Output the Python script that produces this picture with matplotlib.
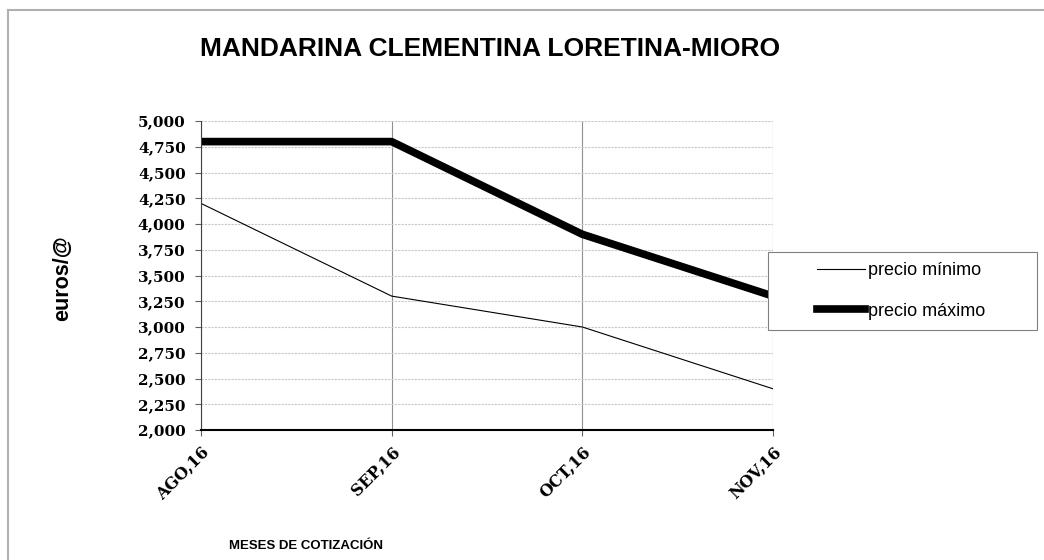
import matplotlib
matplotlib.use('Agg')
from matplotlib import pyplot as plt
from matplotlib.lines import Line2D
from matplotlib.patches import Rectangle

months = ['AGO,16', 'SEP,16', 'OCT,16', 'NOV,16']
precio_minimo = [4.2, 3.3, 3.0, 2.4]
precio_maximo = [4.8, 4.8, 3.9, 3.3]
yticks = [2.0, 2.25, 2.5, 2.75, 3.0, 3.25, 3.5, 3.75, 4.0, 4.25, 4.5, 4.75, 5.0]

W, H = 1044, 560
fig = plt.figure(figsize=(W / 100, H / 100), dpi=100)
ax = fig.add_axes([201 / W, 1 - 430 / H, 572 / W, 309 / H])

x = list(range(len(months)))
ax.plot(x, precio_minimo, color='black', lw=0.8)
ax.plot(x, precio_maximo, color='black', lw=5.5, solid_capstyle='butt')

ax.set_xlim(0, 3)
ax.set_ylim(2.0, 5.0)
ax.set_yticks(yticks)
ax.set_yticklabels([('%.3f' % v).replace('.', ',') for v in yticks],
                   family='DejaVu Serif', fontweight='bold', fontsize=11)
ax.set_xticks(x)
ax.set_xticklabels(months, rotation=45, ha='right', rotation_mode='anchor',
                   family='DejaVu Serif', fontweight='bold', fontsize=11.5)

ax.grid(axis='y', color='#c8c8c8', ls=(0, (2, 1)), lw=0.8)
ax.grid(axis='x', color='#909090', ls='-', lw=0.8)
for s in ['top', 'right']:
    ax.spines[s].set_visible(False)
ax.spines['left'].set_color('#404040')
ax.spines['bottom'].set_color('black')
ax.spines['bottom'].set_linewidth(1.5)
ax.tick_params(length=4, color='#606060')
ax.tick_params(axis='y', pad=7)
ax.tick_params(axis='x', pad=6)

fig.text(490 / W, 1 - 49 / H, 'MANDARINA CLEMENTINA LORETINA-MIORO', ha='center', va='center',
         fontsize=19, fontweight='bold', family='Liberation Sans')
fig.text(63 / W, 1 - 278 / H, 'euros/@', rotation=90, ha='center', va='center',
         fontsize=15.5, fontweight='bold', family='Liberation Sans')
fig.text(306 / W, 1 - 546 / H, 'MESES DE COTIZACIÓN', ha='center', va='center',
         fontsize=9.5, fontweight='bold', family='Liberation Sans')

# legend box
fig.add_artist(Rectangle((768 / W, 1 - 330 / H), 269 / W, 78 / H, transform=fig.transFigure,
                         facecolor='white', edgecolor='#808080', lw=0.8, zorder=5))
handles = [Line2D([], [], color='black', lw=0.8), Line2D([], [], color='black', lw=5.5)]
leg = fig.legend(handles, ['precio mínimo', 'precio máximo'], loc='center left',
                 bbox_to_anchor=(810 / W, 1 - 291 / H), frameon=False,
                 prop={'family': 'Liberation Sans', 'size': 13}, handlelength=2.65,
                 labelspacing=1.3, handletextpad=0.15, borderaxespad=0)
leg.set_zorder(6)

# outer chart border (top and left visible)
fig.add_artist(Line2D([7.5 / W, 1], [1 - 9.5 / H, 1 - 9.5 / H], color='#b0b0b0', lw=1.5,
                      transform=fig.transFigure))
fig.add_artist(Line2D([7.5 / W, 7.5 / W], [0, 1 - 9.5 / H], color='#b0b0b0', lw=1.5,
                      transform=fig.transFigure))

fig.savefig('out.png', dpi=100)
